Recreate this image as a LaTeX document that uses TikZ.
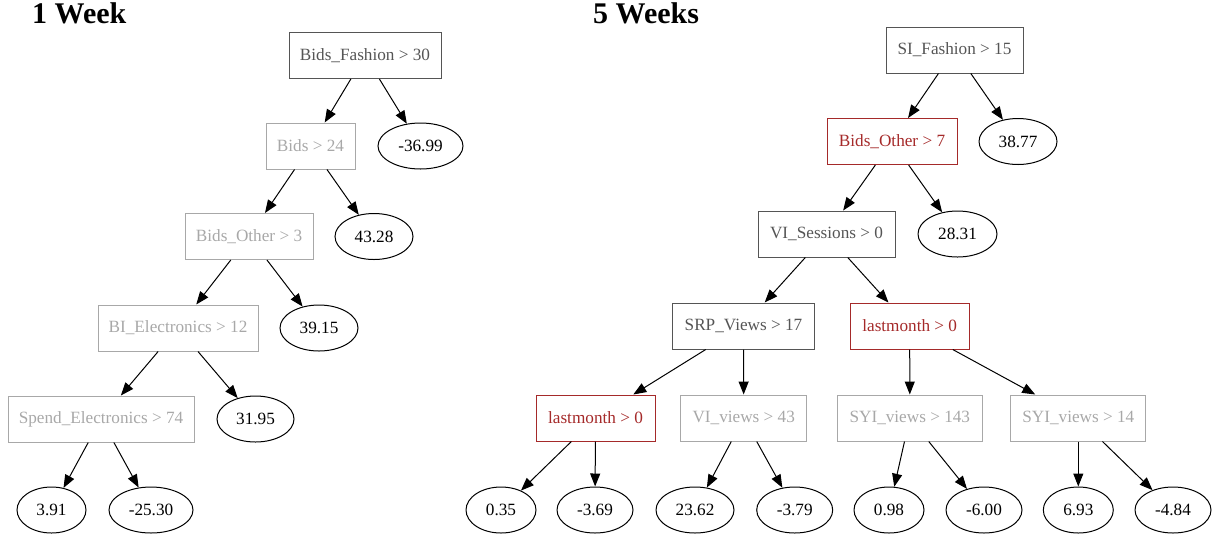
\documentclass[tikz,border=0pt]{standalone}
\usepackage{fontspec}
\setmainfont{Liberation Serif}
\usetikzlibrary{arrows.meta,shapes.geometric}
\definecolor{darkbox}{HTML}{555555}
\definecolor{lightbox}{HTML}{A8A8A8}
\definecolor{redbox}{HTML}{A52A2A}
\tikzset{
  every node/.style={font=\fontsize{17.2}{20}\selectfont, inner sep=0pt},
  box/.style={rectangle, draw, line width=1pt, minimum height=46pt},
  dark/.style={box, draw=darkbox, text=darkbox},
  light/.style={box, draw=lightbox, text=lightbox},
  red/.style={box, draw=redbox, text=redbox},
  leaf/.style={ellipse, draw=black, line width=1pt, minimum height=46pt, text=black},
  title/.style={font=\fontsize{30}{34}\selectfont\bfseries, anchor=base west},
  edge/.style={draw=black, line width=1pt, -{Triangle[length=13pt,width=10pt]}}
}
\begin{document}
\begin{tikzpicture}[x=1pt,y=-1pt]
\useasboundingbox (0,0) rectangle (1214,539);
% titles
\node[title] (t1) at (32,23) {1 Week};
\node[title] (t2) at (593,23) {5 Weeks};
% left tree
\node[dark, minimum width=152pt] (a1) at (365,55.5) {Bids\_Fashion > 30};
\node[light, minimum width=89pt] (a2) at (310.5,146) {Bids > 24};
\node[leaf, minimum width=85pt] (a3) at (420.5,146) {-36.99};
\node[light, minimum width=128pt] (a4) at (249,236.5) {Bids\_Other > 3};
\node[leaf, minimum width=78pt] (a5) at (374,236.5) {43.28};
\node[light, minimum width=160pt] (a6) at (178,328) {BI\_Electronics > 12};
\node[leaf, minimum width=78pt] (a7) at (319,328) {39.15};
\node[light, minimum width=186pt] (a8) at (101,419) {Spend\_Electronics > 74};
\node[leaf, minimum width=77pt] (a9) at (255.5,419) {31.95};
\node[leaf, minimum width=69pt] (a10) at (51.5,510) {3.91};
\node[leaf, minimum width=84pt] (a11) at (151,510) {-25.30};
\draw[edge] (a1) -- (a2);
\draw[edge] (a1) -- (a3);
\draw[edge] (a2) -- (a4);
\draw[edge] (a2) -- (a5);
\draw[edge] (a4) -- (a6);
\draw[edge] (a4) -- (a7);
\draw[edge] (a6) -- (a8);
\draw[edge] (a6) -- (a9);
\draw[edge] (a8) -- (a10);
\draw[edge] (a8) -- (a11);
% right tree
\node[dark, minimum width=137pt] (b1) at (954.5,50) {SI\_Fashion > 15};
\node[red, minimum width=130pt] (b2) at (892,141.5) {Bids\_Other > 7};
\node[leaf, minimum width=78pt] (b3) at (1018,141.5) {38.77};
\node[dark, minimum width=137pt] (b4) at (826.5,234) {VI\_Sessions > 0};
\node[leaf, minimum width=79pt] (b5) at (957.5,234) {28.31};
\node[dark, minimum width=141.6pt] (b6) at (743.5,326) {SRP\_Views > 17};
\node[red, minimum width=119pt] (b7) at (909.7,326) {lastmonth > 0};
\node[red, minimum width=119pt] (b8) at (595.5,418) {lastmonth > 0};
\node[light, minimum width=126pt] (b9) at (743.7,418) {VI\_views > 43};
\node[light, minimum width=145pt] (b10) at (909.8,418) {SYI\_views > 143};
\node[light, minimum width=135.3pt] (b11) at (1078.3,418) {SYI\_views > 14};
\node[leaf, minimum width=70pt] (c1) at (501,510) {0.35};
\node[leaf, minimum width=76pt] (c2) at (595,510) {-3.69};
\node[leaf, minimum width=78pt] (c3) at (695,510) {23.62};
\node[leaf, minimum width=76pt] (c4) at (794.7,510) {-3.79};
\node[leaf, minimum width=70pt] (c5) at (889,510) {0.98};
\node[leaf, minimum width=76pt] (c6) at (984,510) {-6.00};
\node[leaf, minimum width=70pt] (c7) at (1078.3,510) {6.93};
\node[leaf, minimum width=76pt] (c8) at (1173,510) {-4.84};
\draw[edge] (b1) -- (b2);
\draw[edge] (b1) -- (b3);
\draw[edge] (b2) -- (b4);
\draw[edge] (b2) -- (b5);
\draw[edge] (b4) -- (b6);
\draw[edge] (b4) -- (b7);
\draw[edge] (b6) -- (b8);
\draw[edge] (b6) -- (b9);
\draw[edge] (b7) -- (b10);
\draw[edge] (b7) -- (b11);
\draw[edge] (b8) -- (c1);
\draw[edge] (b8) -- (c2);
\draw[edge] (b9) -- (c3);
\draw[edge] (b9) -- (c4);
\draw[edge] (b10) -- (c5);
\draw[edge] (b10) -- (c6);
\draw[edge] (b11) -- (c7);
\draw[edge] (b11) -- (c8);
\end{tikzpicture}
\end{document}
